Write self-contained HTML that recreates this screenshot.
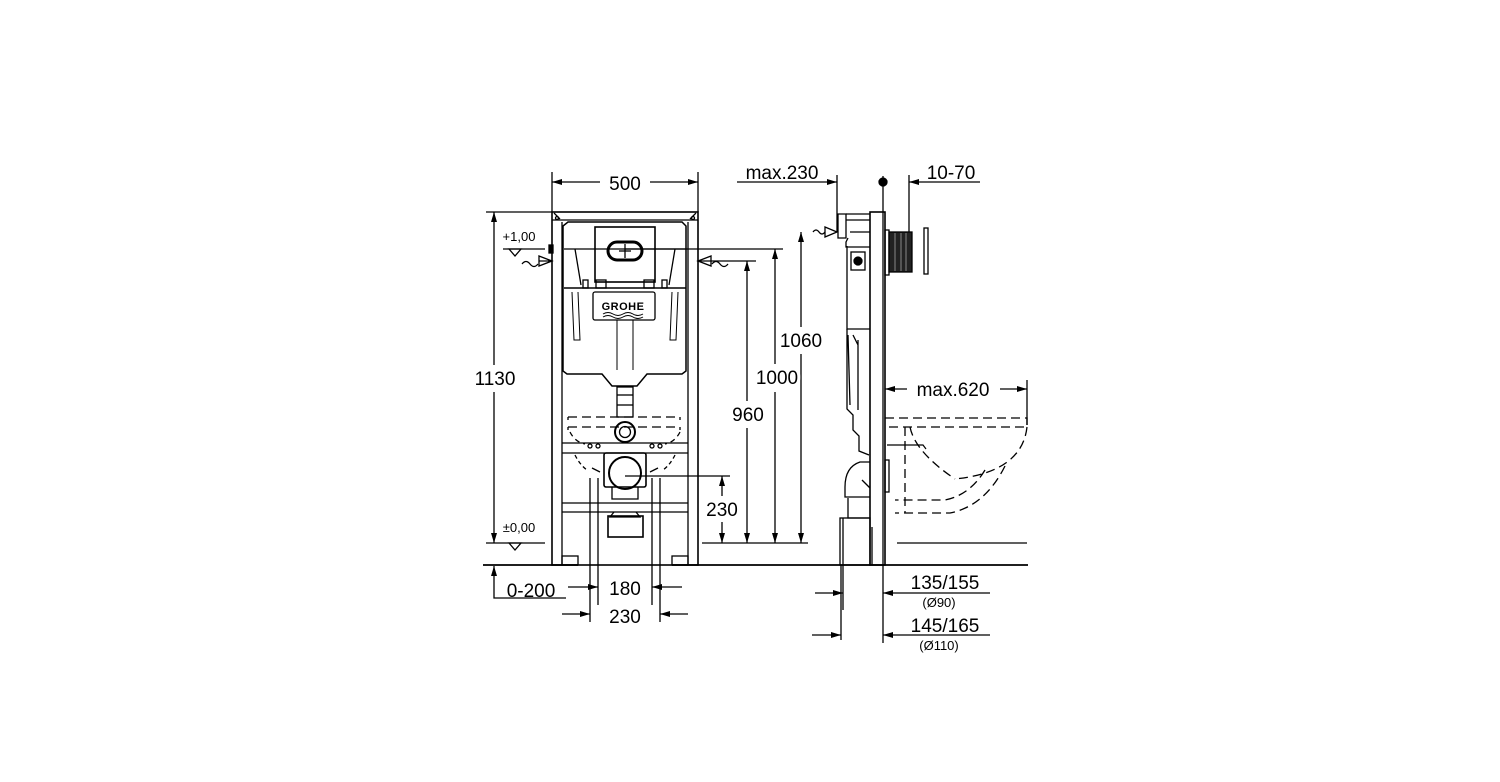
<!DOCTYPE html>
<html><head><meta charset="utf-8"><style>
html,body{margin:0;padding:0;background:#fff;}
svg{display:block;}
text{font-family:"Liberation Sans",Arial,sans-serif;fill:#000;}
</style></head><body>
<svg width="1500" height="782" viewBox="0 0 1500 782" xmlns="http://www.w3.org/2000/svg">
<defs>
<marker id="a" viewBox="0 0 10 6" refX="10" refY="3" markerWidth="10" markerHeight="6" orient="auto-start-reverse" markerUnits="userSpaceOnUse"><path d="M0,0L10,3L0,6z" fill="#000"/></marker>
</defs>
<g stroke="#000" stroke-width="1.3" fill="none">
<line x1="552" y1="172" x2="552" y2="212"/><line x1="698" y1="172" x2="698" y2="212"/>
<line x1="600" y1="182" x2="552" y2="182" marker-end="url(#a)"/><line x1="650" y1="182" x2="698" y2="182" marker-end="url(#a)"/>
<rect x="552" y="212" width="146" height="353" stroke-width="1.6"/>
<line x1="562" y1="222" x2="562" y2="565"/><line x1="688" y1="222" x2="688" y2="565"/>
<line x1="552" y1="220" x2="698" y2="220"/>
<path d="M554 213l6 6M696 213l-6 6"/>
<circle cx="557" cy="218" r="1.5"/><circle cx="693" cy="218" r="1.5"/>
<rect x="549" y="245" width="4" height="8" fill="#000"/>
<path d="M568 222h114l4 4v145l-4 3h-35l-10 12h-25l-10-12h-35l-4-3v-145z" stroke-width="1.5"/>
<line x1="564" y1="249" x2="686" y2="249"/>
<path d="M575 249l6 36M675 249l-6 36"/>
<line x1="564" y1="288" x2="686" y2="288" stroke-width="1.6"/>
<rect x="595" y="227" width="60" height="55" stroke-width="1.6"/>
<rect x="608" y="242" width="34" height="18" rx="9" stroke-width="3"/>
<line x1="625" y1="244" x2="625" y2="258"/><line x1="619" y1="251" x2="631" y2="251"/>
<rect x="596" y="280" width="10" height="8"/><rect x="644" y="280" width="10" height="8"/>
<rect x="583" y="280" width="5" height="8"/><rect x="662" y="280" width="5" height="8"/>
<rect x="593" y="292" width="62" height="28" rx="2"/>
<text x="623" y="310" font-size="11" text-anchor="middle" stroke="none" font-weight="bold" letter-spacing="0.5">GROHE</text>
<path d="M603 314q5-3 10 0t10 0t10 0t10 0M603 317q5-3 10 0t10 0t10 0t10 0" stroke-width="1"/>
<path d="M572 292l2 48h6l-2-48M678 292l-2 48h-6l2-48M617 320v50M633 320v50" stroke-width="1"/>
<rect x="617" y="387" width="16" height="30"/>
<line x1="617" y1="395" x2="633" y2="395"/><line x1="617" y1="405" x2="633" y2="405"/>
<circle cx="625" cy="432" r="10" stroke-width="2"/><circle cx="625" cy="432" r="5.5"/>
<path d="M568 417h112M568 427h112M568 417v3M680 417v3M568 427v3M680 427v3" stroke-dasharray="9,5"/>
<path d="M570 432q5 10 15 12M680 432q-5 10-15 12" stroke-dasharray="5,4"/>
<line x1="562" y1="443" x2="688" y2="443"/><line x1="562" y1="453" x2="688" y2="453"/>
<circle cx="590" cy="446" r="2"/><circle cx="598" cy="446" r="2"/><circle cx="652" cy="446" r="2"/><circle cx="660" cy="446" r="2"/>
<path d="M575 455q5 10 12 15M675 455q-5 10-12 15" stroke-dasharray="4,3"/>
<path d="M592 468l8 4M658 468l-8 4"/>
<rect x="604" y="453" width="42" height="34" rx="2" stroke-width="1.6"/>
<circle cx="625" cy="473" r="16" stroke-width="2"/>
<path d="M612 487v12h26v-12"/>
<line x1="562" y1="503" x2="688" y2="503"/><line x1="562" y1="512" x2="688" y2="512"/>
<path d="M614 512l-4 5h30l-4-5"/>
<rect x="608" y="516" width="35" height="21" stroke-width="1.6"/>
<rect x="562" y="556" width="16" height="9"/><rect x="672" y="556" width="16" height="9"/>
<line x1="483" y1="565" x2="578" y2="565" stroke-width="1.8"/>
<line x1="672" y1="565" x2="1028" y2="565" stroke-width="1.8"/>
<line x1="486" y1="212" x2="552" y2="212"/><line x1="486" y1="543" x2="545" y2="543"/>
<line x1="494" y1="365" x2="494" y2="212" marker-end="url(#a)"/><line x1="494" y1="392" x2="494" y2="543" marker-end="url(#a)"/>
<line x1="503" y1="249" x2="545" y2="249"/>
<path d="M509 249l6 7l6-7z"/>
<path d="M509 543l6 7l6-7z"/>
<path d="M522 264q4-5 8 0t8 0"/><path d="M539 261l13 0M539 256l13 5l-13 5z"/>
<path d="M712 264q4-5 8 0t8 0"/><path d="M711 256l-13 5l13 5z"/>
<line x1="625" y1="249" x2="783" y2="249"/>
<line x1="700" y1="261" x2="756" y2="261"/>
<line x1="625" y1="476" x2="730" y2="476"/>
<line x1="702" y1="543" x2="808" y2="543"/>
<line x1="775" y1="364" x2="775" y2="249" marker-end="url(#a)"/><line x1="775" y1="392" x2="775" y2="543" marker-end="url(#a)"/>
<line x1="747" y1="401" x2="747" y2="261" marker-end="url(#a)"/><line x1="747" y1="428" x2="747" y2="543" marker-end="url(#a)"/>
<line x1="801" y1="327" x2="801" y2="232" marker-end="url(#a)"/><line x1="801" y1="354" x2="801" y2="543" marker-end="url(#a)"/>
<line x1="722" y1="496" x2="722" y2="476" marker-end="url(#a)"/><line x1="722" y1="522" x2="722" y2="543" marker-end="url(#a)"/>
<path d="M494 575v23h72"/>
<line x1="494" y1="575" x2="494" y2="566" marker-end="url(#a)"/>
<line x1="590" y1="478" x2="590" y2="622"/><line x1="598" y1="478" x2="598" y2="605"/>
<line x1="652" y1="478" x2="652" y2="605"/><line x1="660" y1="478" x2="660" y2="622"/>
<line x1="568" y1="587" x2="598" y2="587" marker-end="url(#a)"/><line x1="682" y1="587" x2="652" y2="587" marker-end="url(#a)"/>
<line x1="562" y1="614" x2="590" y2="614" marker-end="url(#a)"/><line x1="688" y1="614" x2="660" y2="614" marker-end="url(#a)"/>
<line x1="737" y1="182" x2="837" y2="182" marker-end="url(#a)"/>
<line x1="837" y1="175" x2="837" y2="232"/>
<line x1="980" y1="182" x2="909" y2="182" marker-end="url(#a)"/>
<line x1="909" y1="175" x2="909" y2="232"/>
<circle cx="883" cy="182" r="4" fill="#000"/>
<line x1="883" y1="176" x2="883" y2="643"/>
<rect x="870" y="212" width="15" height="353" stroke-width="1.6"/>
<line x1="872" y1="527" x2="872" y2="565"/>
<rect x="885" y="230" width="4" height="45"/>
<rect x="889" y="232" width="23" height="40" fill="#222"/>
<path d="M895 233v38M901 233v38M906 233v38" stroke="#888" stroke-width="1"/>
<rect x="924" y="228" width="4" height="46"/>
<path d="M838 214h8v24h-8z"/><path d="M846 214h24M846 220h24"/>
<path d="M850 232h20M848 238l-2 4v5h24"/>
<path d="M847 246v83h23"/>
<rect x="851" y="252" width="14" height="18"/><circle cx="858" cy="261" r="4" fill="#000"/>
<path d="M847 329v80l6 6v15l6 6v15l10 4M848 335l2 70M853 335l5 10v65M858 340v30"/>
<path d="M813 232q3-4 6 0t6 0"/><path d="M825 227l12 5l-12 5z"/>
<path d="M870 462h-10q-15 5-15 25v10h25M848 498v20h22"/>
<rect x="885" y="460" width="4" height="32"/>
<path d="M862 480l8 8"/>
<rect x="840" y="518" width="30" height="47"/>
<line x1="843" y1="518" x2="843" y2="610"/>
<line x1="841" y1="565" x2="841" y2="640"/>
<g stroke-dasharray="9,5">
<path d="M885 418h142v9h-142"/>
<path d="M1027 427q-5 45-72 52"/>
<path d="M905 427v86M910 427q5 25 45 52"/>
<path d="M1005 466q-20 40-55 47h-55M985 470q-15 25-40 30h-50"/>
</g>
<path d="M887 445h36l3 4" stroke-width="1.2"/>
<line x1="897" y1="543" x2="1027" y2="543"/>
<line x1="907" y1="389" x2="885" y2="389" marker-end="url(#a)"/>
<line x1="1000" y1="389" x2="1027" y2="389" marker-end="url(#a)"/>
<line x1="1027" y1="380" x2="1027" y2="425"/>
<line x1="815" y1="593" x2="843" y2="593" marker-end="url(#a)"/>
<line x1="812" y1="635" x2="841" y2="635" marker-end="url(#a)"/>
<line x1="990" y1="593" x2="883" y2="593" marker-end="url(#a)"/>
<line x1="990" y1="635" x2="883" y2="635" marker-end="url(#a)"/>
</g>
<g font-size="19" stroke="none">
<text x="625" y="190" text-anchor="middle">500</text>
<text x="495" y="385" text-anchor="middle" style="paint-order:stroke" stroke="#fff" stroke-width="6">1130</text>
<text x="777" y="384" text-anchor="middle" style="paint-order:stroke" stroke="#fff" stroke-width="6">1000</text>
<text x="748" y="421" text-anchor="middle" style="paint-order:stroke" stroke="#fff" stroke-width="6">960</text>
<text x="801" y="347" text-anchor="middle" style="paint-order:stroke" stroke="#fff" stroke-width="6">1060</text>
<text x="722" y="516" text-anchor="middle" style="paint-order:stroke" stroke="#fff" stroke-width="6">230</text>
<text x="531" y="597" text-anchor="middle">0-200</text>
<text x="625" y="595" text-anchor="middle">180</text>
<text x="625" y="623" text-anchor="middle">230</text>
<text x="782" y="179" text-anchor="middle">max.230</text>
<text x="951" y="179" text-anchor="middle">10-70</text>
<text x="953" y="396" text-anchor="middle">max.620</text>
<text x="945" y="589" text-anchor="middle">135/155</text>
<text x="945" y="632" text-anchor="middle">145/165</text>
</g>
<g font-size="13" stroke="none">
<text x="519" y="241" text-anchor="middle">+1,00</text>
<text x="519" y="532" text-anchor="middle">±0,00</text>
<text x="939" y="607" text-anchor="middle">(Ø90)</text>
<text x="939" y="650" text-anchor="middle">(Ø110)</text>
</g>
</svg>
</body></html>
